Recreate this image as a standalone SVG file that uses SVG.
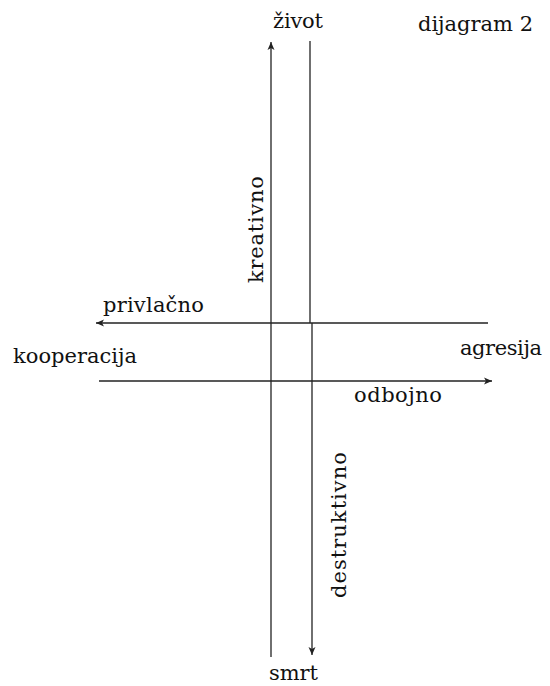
<svg xmlns="http://www.w3.org/2000/svg" width="550" height="686" viewBox="0 0 550 686">
<style>
text{font-family:"DejaVu Serif","Liberation Serif",serif;font-size:21px;fill:#111}
.ln{stroke:#222;stroke-width:1.3;fill:none}
</style>
<defs>
<marker id="ah" markerWidth="10" markerHeight="10" refX="9" refY="5" orient="auto" markerUnits="userSpaceOnUse">
<path d="M1,1.5 L9,5 L1,8.5 L3,5 Z" fill="#222"/>
</marker>
</defs>
<rect width="550" height="686" fill="#fff"/>
<g id="connectors">
<line class="ln" x1="271" y1="657" x2="271" y2="42" marker-end="url(#ah)"/>
<line class="ln" x1="310" y1="41" x2="310" y2="323"/>
<line class="ln" x1="312" y1="323" x2="312" y2="655" marker-end="url(#ah)"/>
<line class="ln" x1="488" y1="323" x2="96" y2="323" marker-end="url(#ah)"/>
<line class="ln" x1="99" y1="381" x2="492" y2="381" marker-end="url(#ah)"/>
</g>
<g id="zivot"><text x="273" y="28" textLength="50" lengthAdjust="spacing">život</text></g>
<g id="dijagram"><text x="418" y="31" textLength="115" lengthAdjust="spacing">dijagram 2</text></g>
<g id="privlacno"><text x="103" y="312" textLength="101" lengthAdjust="spacing">privlačno</text></g>
<g id="kooperacija"><text x="13" y="363" textLength="124" lengthAdjust="spacing">kooperacija</text></g>
<g id="agresija"><text x="460" y="355" textLength="82" lengthAdjust="spacing">agresija</text></g>
<g id="odbojno"><text x="354" y="402" textLength="88" lengthAdjust="spacing">odbojno</text></g>
<g id="smrt"><text x="269" y="680" textLength="49" lengthAdjust="spacing">smrt</text></g>
<g id="kreativno"><text transform="translate(263,283) rotate(-90)" x="0" y="0" textLength="107" lengthAdjust="spacing">kreativno</text></g>
<g id="destruktivno"><text transform="translate(346,598) rotate(-90)" x="0" y="0" textLength="146" lengthAdjust="spacing">destruktivno</text></g>
</svg>
